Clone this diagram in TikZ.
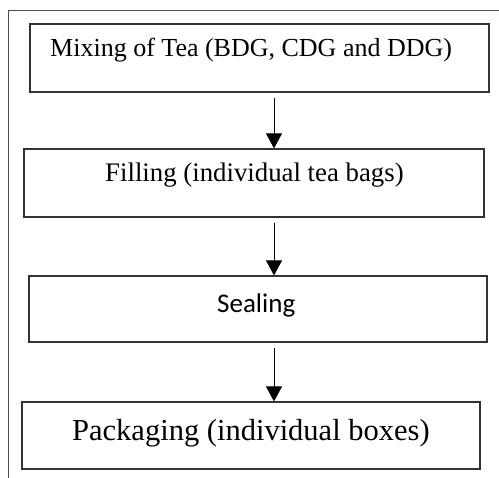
\documentclass[tikz,border=0pt]{standalone}
\usepackage{fontspec}
\setmainfont{Liberation Serif}
\newfontfamily\calfont{Carlito}
\usetikzlibrary{positioning,arrows.meta,calc}

\tikzset{
  stage/.style={draw=black!80, line width=1.2bp, inner sep=0pt},
  flow/.style={line width=0.9bp, shorten <=5bp, -{Triangle[length=15bp,width=16bp]}},
  frameline/.style={draw=black!70, line width=0.9bp}
}

\begin{document}
\begin{tikzpicture}[x=1bp, y=-1bp]
        \useasboundingbox (0,0) rectangle (499,478);
        % outer frame (left and top only)
        \coordinate (fa) at (8,478);
        \coordinate (fb) at (8,10);
        \coordinate (fc) at (499,10);
        \draw[frameline] (fa) -- (fb) -- (fc);
        % stage boxes
        \node[stage, minimum width=459bp, minimum height=68bp] (mix) at (259.5,58) {};
        \node[stage, minimum width=460bp, minimum height=68bp] (fill) at (254,183) {};
        \node[stage, minimum width=458bp, minimum height=66bp] (seal) at (258,309) {};
        \node[stage, minimum width=458bp, minimum height=67bp] (pack) at (251,435.5) {};
        % texts
        \node[anchor=base west, inner sep=0pt, font=\fontsize{26bp}{30bp}\selectfont] (mixtxt) at (50,57) {Mixing of Tea (BDG, CDG and DDG)};
        \node[anchor=base west, inner sep=0pt, font=\fontsize{26.8bp}{30bp}\selectfont] (filltxt) at (105,182) {Filling (individual tea bags)};
        \node[anchor=base west, inner sep=0pt, font=\calfont\fontsize{27bp}{30bp}\selectfont] (sealtxt) at (217,312) {Sealing};
        \node[anchor=base west, inner sep=0pt, font=\fontsize{30.5bp}{34bp}\selectfont] (packtxt) at (72,440) {Packaging (individual boxes)};
        % arrows
        \coordinate (ax) at (274,0);
        \draw[flow] (mix.south -| ax) -- (fill.north -| ax);
        \draw[flow] (fill.south -| ax) -- (seal.north -| ax);
        \draw[flow] (seal.south -| ax) -- (pack.north -| ax);
      \end{tikzpicture}
\end{document}
